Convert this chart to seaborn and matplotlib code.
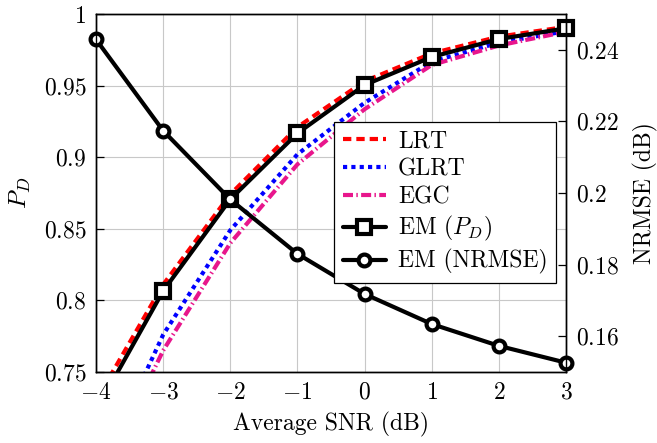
import numpy as np
import pandas as pd
import matplotlib
matplotlib.use("Agg")
import matplotlib.pyplot as plt
import seaborn as sns
from matplotlib.patches import Rectangle

# ---- data ----
snr = [-4, -3, -2, -1, 0, 1, 2, 3]
pd_lrt = [0.730, 0.811, 0.874, 0.921, 0.953, 0.9725, 0.9842, 0.991]
pd_glrt = [0.675, 0.776, 0.849, 0.902, 0.938, 0.9667, 0.980, 0.988]
pd_egc = [0.668, 0.765, 0.840, 0.895, 0.9335, 0.9644, 0.978, 0.9876]
pd_em = [0.723, 0.8066, 0.8706, 0.9167, 0.9504, 0.970, 0.9825, 0.990]
nrmse_em = [0.2429, 0.2174, 0.1982, 0.183, 0.1718, 0.1634, 0.1573, 0.1526]

series_labels = ["LRT", "GLRT", "EGC", r"EM ($P_D$)", "EM (NRMSE)"]
x_ticks = [-4, -3, -2, -1, 0, 1, 2, 3]
x_tick_labels = ["$-4$", "$-3$", "$-2$", "$-1$", "$0$", "$1$", "$2$", "$3$"]
left_ticks = [0.75, 0.8, 0.85, 0.9, 0.95, 1.0]
left_tick_labels = ["$0.75$", "$0.8$", "$0.85$", "$0.9$", "$0.95$", "$1$"]
right_ticks = [0.16, 0.18, 0.2, 0.22, 0.24]
right_tick_labels = ["$0.16$", "$0.18$", "$0.2$", "$0.22$", "$0.24$"]
x_label = "Average SNR (dB)"
y_label = r"$P_D$"
y2_label = "NRMSE (dB)"

sns.set_theme(style="white")
plt.rcParams["font.family"] = ["cmr10", "DejaVu Serif"]
plt.rcParams["mathtext.fontset"] = "cm"
plt.rcParams["axes.formatter.use_mathtext"] = True
plt.rcParams["axes.unicode_minus"] = False
for k in ("text.color", "axes.labelcolor", "xtick.color", "ytick.color",
          "xtick.labelcolor", "ytick.labelcolor"):
    plt.rcParams[k] = "black"

FS = 17
W, H = 657, 443
fig = plt.figure(figsize=(W / 100, H / 100), dpi=100)
L, R, T, B = 96, 566, 14, 372
ax = fig.add_axes([L / W, 1 - B / H, (R - L) / W, (B - T) / H])
ax2 = ax.twinx()

LW = 3.0
MS_SQ, MS_CI, MEW = 10, 8.5, 3.0
sns.lineplot(x=snr, y=pd_lrt, ax=ax, color="#ff0000", lw=LW,
             linestyle=(0, (2.0, 1.2)), label=series_labels[0], legend=False)
sns.lineplot(x=snr, y=pd_glrt, ax=ax, color="#0000ff", lw=LW,
             linestyle=(0, (1.0, 1.0)), label=series_labels[1], legend=False)
sns.lineplot(x=snr, y=pd_egc, ax=ax, color="#e8168c", lw=LW,
             linestyle=(0, (2.4, 0.8, 0.35, 0.8)), label=series_labels[2], legend=False)
sns.lineplot(x=snr, y=pd_em, ax=ax, color="black", lw=LW, marker="s",
             markersize=MS_SQ, markerfacecolor="white", markeredgecolor="black",
             markeredgewidth=MEW, label=series_labels[3], legend=False)
sns.lineplot(x=snr, y=nrmse_em, ax=ax2, color="black", lw=LW, marker="o",
             markersize=MS_CI, markerfacecolor="white", markeredgecolor="black",
             markeredgewidth=MEW, label=series_labels[4], legend=False)

# let markers overhang left/right spines, but clip lines at the bottom
em_line = ax.lines[-1]
em_line.set_clip_path(Rectangle((-0.1, 0.0), 1.2, 1.2, transform=ax.transAxes))
ax2.lines[-1].set_clip_on(False)

ax.set_xlim(-4, 3)
ax.set_ylim(0.75, 1.0)
ax2.set_ylim(0.15, 0.25)

ax.set_xticks(x_ticks)
ax.set_xticklabels(x_tick_labels, fontsize=FS)
ax.set_yticks(left_ticks)
ax.set_yticklabels(left_tick_labels, fontsize=FS)
ax2.set_yticks(right_ticks)
ax2.set_yticklabels(right_tick_labels, fontsize=FS)

ax.grid(True, color="#c8c8c8", lw=0.8)
ax.set_axisbelow(True)
ax.tick_params(axis="both", direction="in", length=6, width=0.9, color="black",
               pad=7, top=False, right=False)
ax2.tick_params(axis="y", direction="in", length=6, width=0.9, color="black", pad=7)

for a in (ax, ax2):
    for s in a.spines.values():
        s.set_color("black")
        s.set_linewidth(1.0)

ax.set_xlabel(x_label, fontsize=FS, labelpad=6)
ax.set_ylabel(y_label, fontsize=FS + 1, labelpad=8)
ax2.set_ylabel(y2_label, fontsize=FS, labelpad=10)

handles = ax.lines[:4] + ax2.lines[:1]
leg = ax2.legend(handles, series_labels, loc="upper right",
                 bbox_to_anchor=(556 / W, 1 - 122 / H),
                 bbox_transform=fig.transFigure, fontsize=FS,
                 frameon=True, fancybox=False, framealpha=1.0,
                 edgecolor="black", handlelength=1.85, handletextpad=0.5,
                 labelspacing=0.25, borderpad=0.35, borderaxespad=0.0)
leg.get_frame().set_linewidth(0.9)
leg.set_zorder(10)

fig.savefig("out.png", dpi=100)
